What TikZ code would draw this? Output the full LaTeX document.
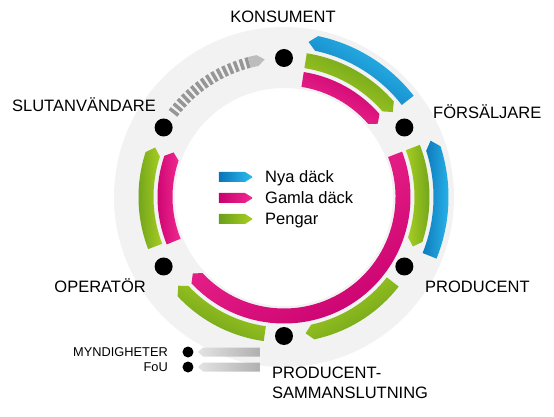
\documentclass[tikz,border=0pt]{standalone}
\usepackage{fontspec}
\setmainfont{Liberation Sans}
\usepackage{tikz}
\usetikzlibrary{positioning}

\definecolor{ringgray}{HTML}{F2F2F2}
\definecolor{nyadark}{HTML}{0B74B8}
\definecolor{nyalight}{HTML}{2DBDF0}
\definecolor{gamladark}{HTML}{C8006E}
\definecolor{gamlalight}{HTML}{F22C92}
\definecolor{pengadark}{HTML}{6A9F1A}
\definecolor{pengalight}{HTML}{AAD022}
\definecolor{stripegray}{HTML}{969696}
\definecolor{tipgray}{HTML}{BDBDBD}

\tikzset{
  dot/.style={circle, fill=black, minimum size=18pt, inner sep=0pt},
  smalldot/.style={circle, fill=black, minimum size=11pt, inner sep=0pt},
  actor/.style={font=\fontsize{16.5}{20}\selectfont, inner sep=0pt},
  minor/.style={font=\fontsize{12.8}{15}\selectfont, inner sep=0pt},
  nya/.style={left color=nyadark, right color=nyalight},
  gamla/.style={left color=gamladark, right color=gamlalight},
  pengar/.style={left color=pengadark, right color=pengalight},
  grayarr/.style={left color=gray!22, right color=gray!62},
}

% band along the ring: style, radius, tail angle, head angle
\newcommand{\ringarrow}[4]{%
  \pgfmathsetmacro\rin{#2-7.5}%
  \pgfmathsetmacro\rout{#2+7.5}%
  \pgfmathsetmacro\dir{sign((#4)-(#3))}%
  \pgfmathsetmacro\tipa{#4+3*\dir}%
  \pgfmathsetmacro\sang{((#3)+(#4))/2+90*\dir}%
  \shade[#1, shading angle=\sang] (#3:\rin) arc[start angle=#3, end angle=#4, radius=\rin]
    -- (\tipa:#2) -- (#4:\rout) arc[start angle=#4, end angle=#3, radius=\rout] -- cycle;%
}

\begin{document}
\begin{tikzpicture}[x=1pt, y=1pt]
\useasboundingbox (-284,-220) rectangle (270,197);
\fill[ringgray, even odd rule] (0,0) circle[radius=170] (0,0) circle[radius=109];

% KONSUMENT -> FORSALJARE
\ringarrow{nya}{157}{38}{78}
\ringarrow{pengar}{138}{81}{41}
\ringarrow{gamla}{119}{81}{41}
% FORSALJARE -> PRODUCENT
\ringarrow{nya}{157}{-22}{18}
\ringarrow{pengar}{138}{21}{-18}
\ringarrow{gamla}{119}{21}{-137}
% PRODUCENT -> SAMMANSLUTNING -> OPERATOR
\ringarrow{pengar}{138}{-38}{-78}
\ringarrow{pengar}{138}{-98}{-137}
% OPERATOR -> SLUTANVANDARE
\ringarrow{pengar}{138}{201}{162}
\ringarrow{gamla}{119}{202}{161}
% SLUTANVANDARE -> KONSUMENT
\draw[stripegray, line width=11pt, dash pattern=on 3.5pt off 2.5pt] (143:139) arc[start angle=143, end angle=104.5, radius=139];
\fill[tipgray] (104.5:133.5) arc[start angle=104.5, end angle=101, radius=133.5] -- (98:139) -- (101:144.5) arc[start angle=101, end angle=104.5, radius=144.5] -- cycle;

\node[dot] (kons) at (90:139) {};
\node[dot] (fors) at (30:139) {};
\node[dot] (prod) at (-30:139) {};
\node[dot] (samm) at (-90:139) {};
\node[dot] (oper) at (-150:139) {};
\node[dot] (slut) at (150:139) {};

\node[actor, anchor=base] (konstext) at (-1,174) {KONSUMENT};
\node[actor, anchor=base west] (forstext) at (149,78) {FÖRSÄLJARE};
\node[actor, anchor=base west] (prodtext) at (141,-96) {PRODUCENT};
\node[actor, anchor=base west] (sammtext) at (-12,-181) {PRODUCENT-};
\node[actor, anchor=base west] (sammtexttwo) at ([yshift=-20pt]sammtext.base west) {SAMMANSLUTNING};
\node[actor, anchor=base east] (opertext) at (-138,-96) {OPERATÖR};
\node[actor, anchor=base east] (sluttext) at (-128,85) {SLUTANVÄNDARE};

% legend
\shade[nya] (-65,25) -- (-39,25) -- (-31,20) -- (-39,15) -- (-65,15) -- cycle;
\shade[gamla] (-65,4) -- (-39,4) -- (-31,-1) -- (-39,-6) -- (-65,-6) -- cycle;
\shade[pengar] (-65,-17) -- (-39,-17) -- (-31,-22) -- (-39,-27) -- (-65,-27) -- cycle;
\node[actor, anchor=base west] (nyatext) at (-19,14) {Nya däck};
\node[actor, anchor=base west] (gamlatext) at (-19,-7) {Gamla däck};
\node[actor, anchor=base west] (pengartext) at (-19,-28) {Pengar};

% myndigheter, FoU
\node[smalldot] (myn) at (-96,-155) {};
\node[smalldot] (fou) at (-96,-170) {};
\node[minor, anchor=base east] (myntext) at (-116,-159.5) {MYNDIGHETER};
\node[minor, anchor=base east] (foutext) at (-116,-174.5) {FoU};
\shade[grayarr] (-24,-150.5) -- (-81,-150.5) -- (-86,-155) -- (-81,-159.5) -- (-24,-159.5) -- cycle;
\shade[grayarr] (-24,-165.5) -- (-81,-165.5) -- (-86,-170) -- (-81,-174.5) -- (-24,-174.5) -- cycle;
\end{tikzpicture}
\end{document}
